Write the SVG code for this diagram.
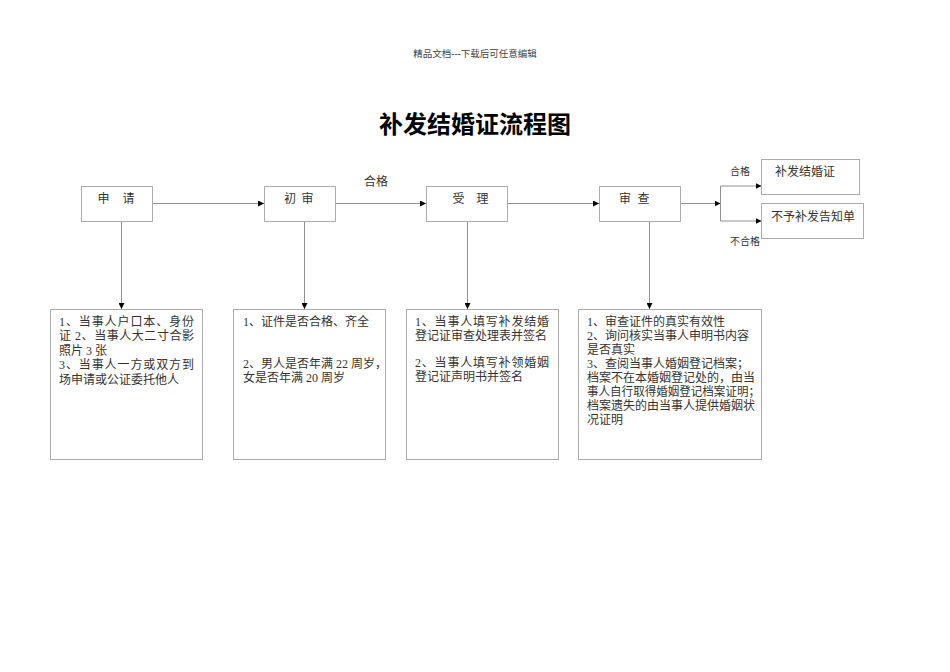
<svg xmlns="http://www.w3.org/2000/svg" width="950" height="672" viewBox="0 0 950 672">
<defs>
<marker id="ah" markerWidth="6" markerHeight="6" refX="6" refY="3" orient="auto" markerUnits="userSpaceOnUse">
<path d="M0,0 L6,3 L0,6 z" fill="#000"/>
</marker>
<style>
text{font-family:"Liberation Serif","Noto Sans CJK SC",serif;fill:#333;}
.box{fill:#fff;stroke:#ababab;stroke-width:1;}
.con{stroke:#909090;stroke-width:1;fill:none;marker-end:url(#ah);}
.line{stroke:#909090;stroke-width:1;fill:none;}
.lbl{font-size:12px;}
.txt{font-size:12px;}
.sm{font-size:10px;}
</style>
</defs>
<rect width="950" height="672" fill="#fff"/>
<text x="475" y="57" text-anchor="middle" style="font-size:9.5px;fill:#444">精品文档---下载后可任意编辑</text>
<text x="475" y="133" text-anchor="middle" style="font-size:24px;font-weight:bold;fill:#000;font-family:'Noto Sans CJK SC',sans-serif">补发结婚证流程图</text>

<g id="connectors">
<line class="con" x1="152.5" y1="203.5" x2="264" y2="203.5"/>
<line class="con" x1="335.5" y1="203.5" x2="426" y2="203.5"/>
<line class="con" x1="508" y1="203.5" x2="599" y2="203.5"/>
<line class="con" x1="681" y1="203.5" x2="720.5" y2="203.5"/>
<line class="line" x1="720.5" y1="186" x2="720.5" y2="221"/>
<line class="con" x1="720.5" y1="186" x2="761.5" y2="186"/>
<line class="con" x1="720.5" y1="221" x2="761.5" y2="221"/>
<line class="con" x1="121.5" y1="221.5" x2="121.5" y2="309"/>
<line class="con" x1="304.5" y1="221.5" x2="304.5" y2="309"/>
<line class="con" x1="467.5" y1="221.5" x2="467.5" y2="309"/>
<line class="con" x1="649.5" y1="221.5" x2="649.5" y2="309"/>
<text class="lbl" x="376" y="185.5" text-anchor="middle">合格</text>
<text class="sm" x="740" y="174.5" text-anchor="middle">合格</text>
<text class="sm" x="745" y="244.5" text-anchor="middle">不合格</text>
</g>

<g id="n-shenqing">
<rect class="box" x="81.5" y="186.5" width="71" height="35"/>
<text class="lbl" x="103.5" y="202.5" text-anchor="middle">申</text>
<text class="lbl" x="128.5" y="202.5" text-anchor="middle">请</text>
</g>
<g id="n-chushen">
<rect class="box" x="264.5" y="186.5" width="71" height="35"/>
<text class="lbl" x="290" y="202.5" text-anchor="middle">初</text>
<text class="lbl" x="307.5" y="202.5" text-anchor="middle">审</text>
</g>
<g id="n-shouli">
<rect class="box" x="426.5" y="186.5" width="81" height="35"/>
<text class="lbl" x="458.5" y="202.5" text-anchor="middle">受</text>
<text class="lbl" x="482.5" y="202.5" text-anchor="middle">理</text>
</g>
<g id="n-shencha">
<rect class="box" x="599.5" y="186.5" width="81" height="35"/>
<text class="lbl" x="625" y="202.5" text-anchor="middle">审</text>
<text class="lbl" x="643.5" y="202.5" text-anchor="middle">查</text>
</g>
<g id="n-bufa">
<rect class="box" x="761.5" y="159.5" width="98" height="35"/>
<text class="lbl" x="805" y="175.5" text-anchor="middle">补发结婚证</text>
</g>
<g id="n-buyu">
<rect class="box" x="761.5" y="203.5" width="102" height="35"/>
<text class="lbl" x="813" y="220.5" text-anchor="middle">不予补发告知单</text>
</g>

<g id="d-shenqing">
<rect class="box" x="50.5" y="309.5" width="152" height="150"/>
<text class="txt" x="59" y="325.5" textLength="135" lengthAdjust="spacing">1、当事人户口本、身份</text>
<text class="txt" x="59" y="340" textLength="135" lengthAdjust="spacing">证 2、当事人大二寸合影</text>
<text class="txt" x="59" y="354.5">照片 3 张</text>
<text class="txt" x="59" y="369" textLength="135" lengthAdjust="spacing">3、当事人一方或双方到</text>
<text class="txt" x="59" y="383.5">场申请或公证委托他人</text>
</g>
<g id="d-chushen">
<rect class="box" x="233.5" y="309.5" width="152" height="150"/>
<text class="txt" x="243" y="325.5">1、证件是否合格、齐全</text>
<text class="txt" x="243" y="367.5">2、男人是否年满 22 周岁，</text>
<text class="txt" x="243" y="382">女是否年满 20 周岁</text>
</g>
<g id="d-shouli">
<rect class="box" x="406.5" y="309.5" width="152" height="150"/>
<text class="txt" x="415" y="325.5" textLength="134" lengthAdjust="spacing">1、当事人填写补发结婚</text>
<text class="txt" x="415" y="340">登记证审查处理表并签名</text>
<text class="txt" x="415" y="366.5" textLength="134" lengthAdjust="spacing">2、当事人填写补领婚姻</text>
<text class="txt" x="415" y="381">登记证声明书并签名</text>
</g>
<g id="d-shencha">
<rect class="box" x="578.5" y="309.5" width="183" height="150"/>
<text class="txt" x="587" y="325.5">1、审查证件的真实有效性</text>
<text class="txt" x="587" y="339.5">2、询问核实当事人申明书内容</text>
<text class="txt" x="587" y="353.5">是否真实</text>
<text class="txt" x="587" y="367.5">3、查阅当事人婚姻登记档案；</text>
<text class="txt" x="587" y="381.5">档案不在本婚姻登记处的，由当</text>
<text class="txt" x="587" y="395.5" textLength="173" lengthAdjust="spacingAndGlyphs">事人自行取得婚姻登记档案证明；</text>
<text class="txt" x="587" y="409.5">档案遗失的由当事人提供婚姻状</text>
<text class="txt" x="587" y="423.5">况证明</text>
</g>
</svg>
